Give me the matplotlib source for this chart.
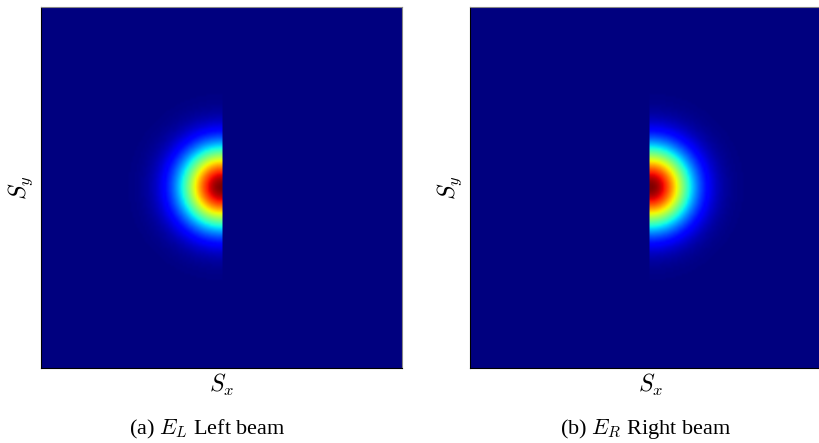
import matplotlib
matplotlib.use('Agg')
import matplotlib.pyplot as plt
import numpy as np

# beam parameters (in units of the half-width of the screen)
GRID_SIZE = 181
BEAM_CENTER = (0.0, 0.0)
BEAM_WAIST = 0.22
APERTURE_RADIUS = 0.56

PANEL_LABELS = ['(a) $E_L$ Left beam', '(b) $E_R$ Right beam']
PANEL_SIDES = ['left', 'right']
X_LABEL = '$S_x$'
Y_LABEL = '$S_y$'

plt.rcParams['font.family'] = ['Liberation Serif', 'DejaVu Serif']
plt.rcParams['mathtext.fontset'] = 'cm'


def half_beam(side):
    s = np.linspace(-1, 1, GRID_SIZE)
    sx, sy = np.meshgrid(s, s)
    r2 = (sx - BEAM_CENTER[0]) ** 2 + (sy - BEAM_CENTER[1]) ** 2
    field = np.exp(-r2 / BEAM_WAIST ** 2)
    field[r2 > APERTURE_RADIUS ** 2] = 0.0
    if side == 'left':
        field[sx > BEAM_CENTER[0]] = 0.0
    else:
        field[sx < BEAM_CENTER[0]] = 0.0
    return field


fig = plt.figure(figsize=(8.2, 4.43), dpi=100)
lefts = [0.0496, 0.5732]
caption_x = [207 / 820, 646 / 820]
for left, cx, side, caption in zip(lefts, caption_x, PANEL_SIDES, PANEL_LABELS):
    ax = fig.add_axes([left, 0.1686, 0.4402, 0.815])
    ax.imshow(half_beam(side), cmap='jet', origin='lower', extent=[-1, 1, -1, 1],
              interpolation='bilinear', vmin=0, vmax=1, aspect='auto')
    ax.set_xticks([])
    ax.set_yticks([])
    ax.set_xlabel(X_LABEL, fontsize=17, labelpad=3)
    ax.set_ylabel(Y_LABEL, fontsize=17, labelpad=4)
    for name in ['top', 'right']:
        ax.spines[name].set_color('#888888')
    for name in ['left', 'bottom']:
        ax.spines[name].set_color('black')
    fig.text(cx, 1 - 429 / 443, caption, ha='center', va='center', fontsize=16)

fig.savefig('out.png', dpi=100)
